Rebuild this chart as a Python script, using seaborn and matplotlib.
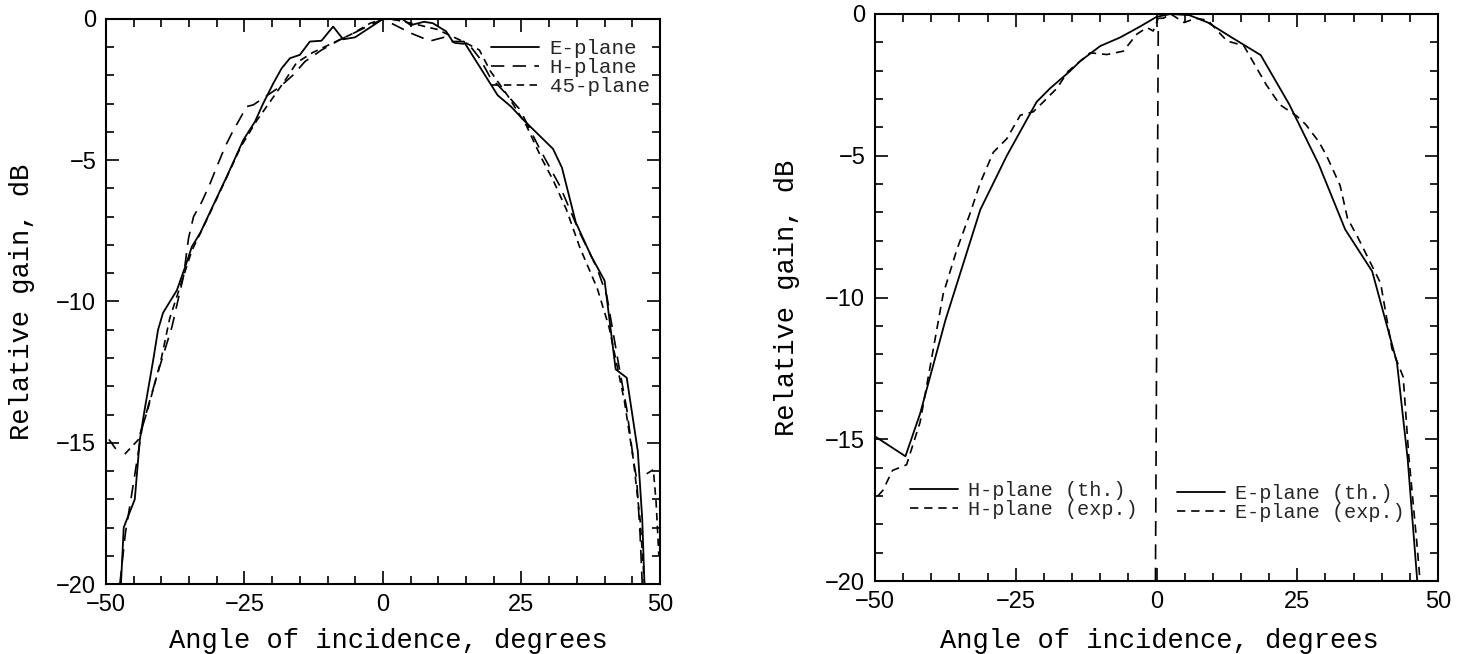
import numpy as np
import pandas as pd
import seaborn as sns
import matplotlib.pyplot as plt
from matplotlib.ticker import MultipleLocator

sns.set_theme(style="ticks")
plt.rcParams["font.family"] = ["Liberation Sans", "DejaVu Sans"]
plt.rcParams["axes.unicode_minus"] = True

# ---- left panel: measured patterns ----
e_x = [-47.3, -46.8, -44.8, -43.9, -43.0, -41.5, -40.6, -39.7, -37.2, -35.7, -34.5, -33.0,
       -30.9, -28.2, -25.2, -23.1, -21.6, -19.8, -18.3, -16.8, -15.0, -13.2, -11.1, -9.0,
       -7.2, -5.05, 0.0, 1.5, 3.0, 5.0, 7.4, 9.0, 11.4, 12.6, 14.6, 17.0, 20.7, 23.1,
       25.5, 30.7, 32.3, 34.8, 37.6, 40.0, 42.0, 44.0, 46.0, 46.8, 47.2]
e_y = [-20.0, -18.0, -17.0, -14.9, -13.8, -12.1, -11.0, -10.4, -9.6, -8.77, -8.06, -7.58,
       -6.7, -5.58, -4.28, -3.63, -2.98, -2.28, -1.75, -1.39, -1.27, -0.8, -0.77, -0.27,
       -0.72, -0.65, 0.0, 0.07, 0.07, -0.22, -0.1, -0.15, -0.44, -0.8, -0.8, -1.55, -2.7, -3.1,
       -3.6, -4.6, -5.26, -7.2, -8.4, -9.26, -12.4, -12.7, -15.3, -17.7, -20.0]

h_x = [-47.5, -46.5, -45.5, -44.3, -43.5, -42.1, -40.3, -38.1, -37.0, -36.0, -35.1, -34.2,
       -32.7, -31.2, -30.0, -28.5, -27.3, -24.6, -23.4, -18.6, -16.2, -14.1, -11.1, -7.8,
       -4.75, -2.9, 0.0, 2.0, 5.0, 8.5, 11.0, 13.0, 15.5, 17.5, 19.3, 22.0, 24.7, 28.3,
       31.9, 35.6, 38.6, 40.4, 42.6, 44.0, 45.2, 45.8, 46.4, 46.8]
h_y = [-20.0, -18.2, -17.0, -15.5, -14.5, -13.5, -12.3, -10.9, -9.95, -9.1, -7.76, -7.0,
       -6.47, -5.82, -5.23, -4.52, -4.05, -3.1, -3.04, -2.4, -1.98, -1.51, -1.1, -0.74,
       -0.45, -0.27, 0.0, -0.2, -0.5, -0.78, -0.65, -0.85, -0.9, -1.4, -2.05, -2.6, -3.2, -4.6,
       -5.9, -7.6, -8.8, -9.8, -12.3, -13.8, -15.6, -16.3, -18.2, -20.0]

d45_x = [-46.6, -44.2, -42.5, -40.1, -38.5, -36.5, -34.5, -31.3, -28.8, -25.6, -22.8, -19.2,
         -17.6, -15.6, -12.7, -9.5, -5.5, -2.3, 0.0, 2.5, 6.6, 9.8, 11.4, 14.6, 17.4, 19.4,
         22.6, 25.9, 28.7, 30.7, 33.1, 35.5, 38.7, 40.8, 42.4, 43.6, 45.2, 46.4, 47.2]
d45_y = [-15.4, -14.9, -13.85, -12.1, -10.6, -9.4, -8.2, -6.9, -5.85, -4.5, -3.6, -2.6,
         -2.15, -1.55, -1.19, -0.89, -0.52, -0.15, 0.0, -0.04, -0.22, -0.37, -0.52, -0.81, -1.1, -1.85,
         -2.74, -3.78, -4.96, -5.7, -6.74, -8.07, -9.55, -10.9, -12.4, -13.55, -15.6, -17.7, -20.0]

# stray pieces at the plot edges
frag_l_x = [-49.4, -48.3]
frag_l_y = [-14.9, -15.2]
frag_r_x = [47.6, 48.8, 49.3, 49.8]
frag_r_y = [-16.1, -15.95, -17.1, -19.0]

# ---- right panel: theory vs experiment ----
hth_x = [-50.0, -44.6, -42.0, -37.5, -31.3, -26.6, -21.3, -18.9, -15.4, -13.6, -10.0, -6.5, -3.0, 0.0, 2.5]
hth_y = [-14.9, -15.6, -14.1, -10.8, -6.9, -5.0, -3.1, -2.62, -2.02, -1.67, -1.13, -0.83, -0.45, -0.1, 0.0]

eth_x = [2.5, 5.8, 9.1, 13.2, 18.5, 23.6, 28.8, 33.5, 38.3, 42.7, 44.6, 46.3]
eth_y = [0.0, -0.04, -0.3, -0.81, -1.45, -3.2, -5.3, -7.6, -9.08, -12.3, -15.7, -20.0]

hexp_x = [-49.5, -48.6, -46.9, -44.4, -42.0, -40.0, -37.9, -35.5, -33.1, -31.3, -29.0, -26.6,
          -24.2, -21.9, -20.1, -17.7, -15.7, -11.8, -8.8, -5.9, -3.5, -1.7, -0.6, 0.3]
hexp_y = [-17.0, -16.8, -16.1, -15.9, -14.4, -12.2, -9.88, -8.33, -7.02, -5.95, -4.88, -4.4,
          -3.57, -3.45, -3.1, -2.62, -2.02, -1.37, -1.43, -1.31, -0.71, -0.48, -0.6, -0.15]

eexp_x = [0.3, 1.2, 2.5, 4.9, 7.0, 9.1, 12.5, 15.5, 19.5, 21.9, 24.9, 26.5, 28.8, 30.2, 32.6,
          33.9, 35.8, 39.8, 41.8, 43.8, 44.8, 46.2, 46.8]
eexp_y = [-0.15, -0.15, 0.0, -0.3, -0.15, -0.22, -0.95, -1.12, -2.5, -3.2, -3.6, -3.9, -4.5, -5.0, -6.05,
          -7.2, -7.9, -9.5, -11.8, -12.8, -15.6, -18.6, -20.0]

vline_x = [0.3, -0.2]
vline_y = [-0.6, -20.0]

mono = ["Liberation Mono", "DejaVu Sans Mono"]
long_dash = (0, (8, 5))
short_dash = (0, (4.5, 3.2))
exp_dash = (0, (5, 3.5))

fig = plt.figure(figsize=(14.64, 6.54), dpi=100)
ax1 = fig.add_axes([0.0724, 0.107, 0.3784, 0.864])
ax2 = fig.add_axes([0.5977, 0.1116, 0.3846, 0.867])

kw = dict(color="black", sort=False, estimator=None)
sns.lineplot(x=e_x, y=e_y, ax=ax1, lw=1.3, **kw)
l_e = ax1.lines[-1]
sns.lineplot(x=h_x, y=h_y, ax=ax1, lw=1.2, ls=long_dash, **kw)
l_h = ax1.lines[-1]
sns.lineplot(x=d45_x, y=d45_y, ax=ax1, lw=1.2, ls=short_dash, **kw)
l_45 = ax1.lines[-1]
sns.lineplot(x=frag_l_x, y=frag_l_y, ax=ax1, lw=1.2, **kw)
sns.lineplot(x=frag_r_x, y=frag_r_y, ax=ax1, lw=1.2, ls=short_dash, **kw)

ax1.legend([l_e, l_h, l_45], ["E-plane", "H-plane", "45-plane"], loc="upper right",
           bbox_to_anchor=(1.008, 0.99), frameon=False, prop={"family": mono, "size": 15},
           handlelength=2.3, labelspacing=0.0, handletextpad=0.5, borderpad=0.2)

sns.lineplot(x=hth_x, y=hth_y, ax=ax2, lw=1.3, **kw)
l_hth = ax2.lines[-1]
sns.lineplot(x=eth_x, y=eth_y, ax=ax2, lw=1.3, **kw)
l_eth = ax2.lines[-1]
sns.lineplot(x=hexp_x, y=hexp_y, ax=ax2, lw=1.2, ls=exp_dash, **kw)
l_hexp = ax2.lines[-1]
sns.lineplot(x=eexp_x, y=eexp_y, ax=ax2, lw=1.2, ls=exp_dash, **kw)
l_eexp = ax2.lines[-1]
sns.lineplot(x=vline_x, y=vline_y, ax=ax2, lw=1.2, ls=(0, (9, 5)), **kw)

leg_kw = dict(frameon=False, prop={"family": mono, "size": 14.5}, handlelength=2.4,
              labelspacing=0.0, handletextpad=0.5, borderpad=0.0, borderaxespad=0.0)
leg_h = ax2.legend([l_hth, l_hexp], ["H-plane (th.)", "H-plane (exp.)"], loc="center left",
                   bbox_to_anchor=(0.062, 0.142), **leg_kw)
ax2.add_artist(leg_h)
ax2.legend([l_eth, l_eexp], ["E-plane (th.)", "E-plane (exp.)"], loc="center left",
           bbox_to_anchor=(0.536, 0.138), **leg_kw)

for ax in (ax1, ax2):
    ax.set_xlim(-50, 50)
    ax.set_ylim(-20, 0)
    ax.xaxis.set_major_locator(MultipleLocator(25))
    ax.xaxis.set_minor_locator(MultipleLocator(5))
    ax.yaxis.set_major_locator(MultipleLocator(5))
    ax.yaxis.set_minor_locator(MultipleLocator(1))
    ax.tick_params(which="both", direction="in", top=True, right=True, width=1.2, color="black")
    ax.tick_params(which="major", length=9.5)
    ax.tick_params(which="minor", length=6)
    ax.tick_params(axis="x", pad=7, labelsize=17, labelcolor="black")
    ax.tick_params(axis="y", pad=7, labelsize=17, labelcolor="black")
    for sp in ax.spines.values():
        sp.set_visible(True)
        sp.set_linewidth(1.5)
        sp.set_color("black")
    ax.set_xlabel("Angle of incidence, degrees", fontsize=19.5, family=mono, color="black")
    ax.set_ylabel("Relative gain, dB", fontsize=19.5, family=mono, color="black")

ax1.xaxis.set_label_coords(0.51, -0.078)
ax1.yaxis.set_label_coords(-0.128, 0.5)
ax2.xaxis.set_label_coords(0.505, -0.083)
ax2.yaxis.set_label_coords(-0.133, 0.5)

fig.savefig("out.png", dpi=100, facecolor="white")
